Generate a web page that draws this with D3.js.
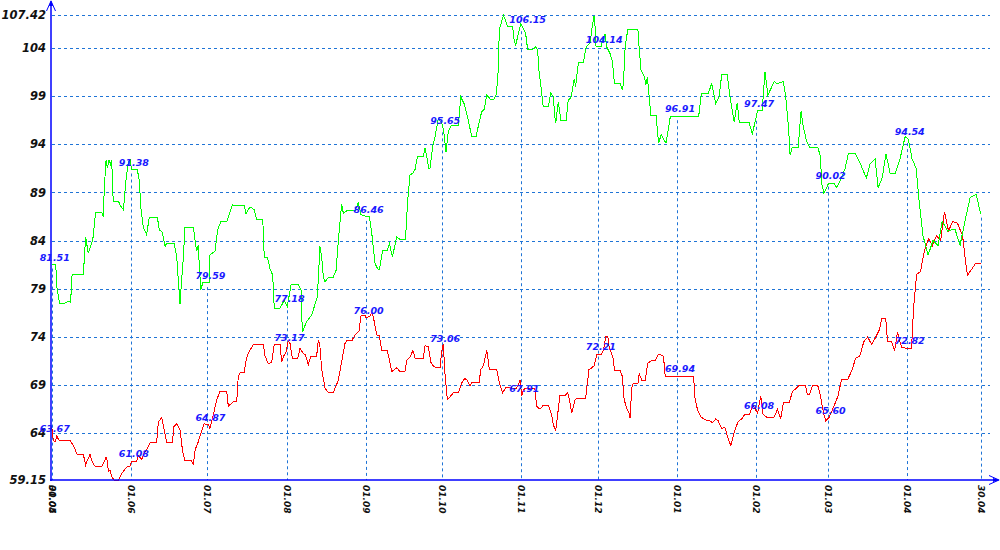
<!DOCTYPE html>
<html><head><meta charset="utf-8">
<script src="https://cdn.jsdelivr.net/npm/d3@7/dist/d3.min.js"></script>
<style>body{margin:0;background:#fff}svg{display:block}</style>
</head><body><svg id="c" width="1000" height="550"></svg>
<script>
// ---- data ----
const yTicks = [59.15, 64, 69, 74, 79, 84, 89, 94, 99, 104, 107.42];
const gridValues = [64, 69, 74, 79, 84, 89, 94, 99, 104, 107.42];
const xTickDays = [0, 0, 31, 61, 92, 123, 153, 184, 214, 245, 276, 304, 335, 364];
const xTickLabels = ["30.04", "01.05", "01.06", "01.07", "01.08", "01.09", "01.10", "01.11", "01.12", "01.01", "01.02", "01.03", "01.04", "30.04"];
const monthDays = [0, 31, 61, 92, 123, 153, 184, 214, 245, 276, 304, 335];
const greenLabels = [81.51, 91.38, 79.59, 77.18, 86.46, 95.65, 106.15, 104.14, 96.91, 97.47, 90.02, 94.54];
const redLabels = [63.67, 61.08, 64.87, 73.17, 76.00, 73.06, 67.91, 72.21, 69.94, 66.08, 65.60, 72.82];

// [day offset from 01.05, value]
const greenSeries = [
[0,81.5],[1.6,81.5],[2,79.2],[3.1,77.5],[5.1,77.5],[6.4,77.7],[7.4,77.6],[8,80.5],[12.4,80.5],[13.3,84.4],[14.3,82.7],[16.1,84.1],[17.2,86.9],[19.6,86.9],[20.2,86.5],[20.6,89.4],[21.3,92.4],[21.8,91.5],[22.5,92.4],[23.2,91.8],[23.5,92.4],[24.1,88.1],[26.1,88.1],[27,87.6],[28.1,87.2],[29.1,90.3],[30,92.2],[30.7,92.4],[31.3,91.4],[33.5,91.4],[34.3,90.3],[34.9,87.5],[35.9,85.4],[37.2,84.6],[38.2,86.4],[41.4,86.4],[42.2,85.1],[43.3,84.9],[44.4,83.4],[45,83.7],[48,83.7],[49,82.3],[49.6,79.9],[50.3,77.4],[50.9,79.9],[51.6,82.3],[52.2,85.4],[55.5,85.4],[56.4,83.5],[56.9,83],[57.4,83.5],[58.4,78.9],[59.2,79.6],[61.8,79.6],[62,82.5],[64,82.9],[65,85.1],[66.3,86],[68.6,86],[70.8,87.7],[75.5,87.6],[76.1,86.8],[77.7,87.5],[79.4,87.2],[80.3,86.2],[82.7,86.2],[83.3,82.2],[84.6,82.2],[85.5,81.1],[86.6,80.4],[87.2,77],[89.5,77],[91.1,77.8],[92.3,77.2],[93.8,79.4],[96.6,79.4],[97.7,78.9],[98.2,74.5],[99.9,75.6],[101.9,76.3],[104.1,78.2],[105.1,83.4],[105.8,82.3],[106.4,80.3],[107.1,79.7],[108.4,80.2],[110.3,80.2],[111.4,80.9],[112.6,84.9],[113.6,87.8],[114.3,86.8],[115.6,87.1],[118.8,87.1],[120.1,87.9],[121.2,86.7],[123.2,86.5],[124.5,86.5],[125.4,84.8],[126.7,81.6],[127.9,81.0],[128.4,81.0],[129.7,83],[131.5,83],[132.3,83.7],[133.5,82.3],[135.2,84.4],[136.5,84.1],[138.6,84.1],[139.5,88.2],[140.4,90.8],[141.5,91.0],[142.4,91.4],[143.3,92.7],[145.6,92.7],[146.3,93.6],[147.8,91.5],[148.2,91.5],[149.3,93.8],[150.2,94.8],[151.5,96.7],[152.8,96.2],[153.4,95.65],[153.7,95.1],[154.5,93.2],[155.4,95.3],[156.7,96],[159.3,96],[160.3,98.9],[161.6,98.2],[163.2,96.5],[164.6,94.8],[166.3,94.8],[167.4,96.2],[168.5,97.4],[169.4,97.6],[170.5,99.1],[171.8,98.7],[173.3,98.7],[174.1,99.1],[174.8,100.8],[175.4,105.9],[177,107.4],[178.7,106.2],[180.6,106.2],[181.1,105],[181.8,104.2],[182.8,105.5],[183.8,106.5],[184.5,106.15],[185.7,105.5],[186.5,103.8],[188.3,103.8],[189.6,104.1],[190.4,103.8],[190.9,101.7],[191.7,100],[192.6,97.9],[194.6,97.9],[195.5,99.3],[196.5,99],[197.2,96.7],[197.5,96.2],[198.3,98.1],[198.5,98.4],[199.5,96.5],[201.6,96.5],[202.4,98.6],[203.4,98.8],[204,99.6],[204.7,100.8],[205.3,100],[205.7,101],[206.4,102.5],[208.3,102.5],[209.4,104.1],[210.9,104.5],[211.8,106.2],[212.5,107.3],[212.9,106.2],[213.3,104.1],[215.3,104.1],[215.8,104.9],[216.8,105.4],[217.5,104.1],[218.8,103.4],[219.7,102.6],[220.5,100.3],[222.7,100.3],[223.6,99.6],[224,100.3],[224.7,104.1],[225.7,105.9],[229.7,105.9],[230.2,103.9],[230.9,101.7],[232.2,101],[232.8,100.2],[233.4,101],[234.1,98.9],[234.8,97],[236.8,97],[237.8,94.1],[238.8,95],[240.7,94.1],[242.4,96.9],[253.5,96.9],[254.6,99.3],[257.3,99.3],[258.6,100.3],[260.2,98.2],[261.5,98.9],[262.5,101.2],[264.7,101.2],[265.8,98.9],[267.4,96.3],[268.6,98.3],[269.4,96.3],[273.2,96.3],[274.5,95.1],[275.6,96.3],[276.6,97.5],[278.4,97.5],[278.8,99.1],[279.5,101.5],[280.6,99.1],[282.2,100],[283.1,100.5],[284.2,100.3],[286.7,100.5],[287.6,98.9],[288.7,95.8],[289.3,92.9],[290.2,93.7],[292.5,93.7],[293.6,97.4],[294.5,95.8],[295.8,94.3],[296.9,93.7],[300.2,93.7],[301.2,92.7],[301.7,89.9],[302.6,88.9],[304.3,89.9],[306.7,89.9],[307.6,89.5],[308.9,90.2],
[310.9,91.5],[312.1,93],[314.9,93],[316.8,92],[319.2,90.5],[320.7,92],[322.6,92.5],[323.8,89.5],[325.4,90.5],[326.9,93],[328.5,91],[330.5,91],[332.4,92.5],[334.4,94.8],[335.6,94.54],[337.1,92.5],[338.7,91.5],[339.9,88],[341.4,84.5],[343.4,82.5],[345.3,84],[347.3,83.5],[348.9,86],[351.1,85],[353.9,85.2],[355.9,83.5],[357.8,86],[359.9,88.5],[362.2,88.8],[364,86.8]
];

const redSeries = [
[0,64.8],[0.6,63.3],[1.3,63.1],[2,63.7],[2.6,63.4],[3.3,63.2],[7.4,63.2],[8.7,62.6],[10,61.8],[12.4,61.8],[13.3,60.7],[14,61.2],[15,61.8],[15.9,61.0],[17.2,60.5],[19.6,60.5],[21.3,61.5],[21.8,61.1],[22.2,60.0],[22.8,60.2],[23.5,59.5],[24.4,59.15],[26.1,59.15],[27.4,59.8],[29.4,60.5],[30.7,60.6],[31.3,61.08],[33.3,61.1],[33.9,61.7],[35.3,61.3],[36.2,62.0],[37.2,62.3],[38.5,63.0],[41.1,63.0],[41.8,65.2],[43.1,65.6],[43.7,64.9],[45.1,63.0],[47.3,63.0],[47.9,64.7],[49,65.0],[50.3,64.3],[51.3,62.1],[52.2,61.2],[54.5,61.2],[55.5,60.8],[56.2,62.3],[57.4,63.1],[58.8,64.3],[59.7,65.0],[61.4,64.87],[62,64.5],[63.3,65.9],[64.7,67.5],[65.9,68.3],[68.6,68.3],[69.2,66.8],[71.2,67.3],[72.5,67.3],[73.1,69.9],[73.8,70.3],[75.5,70.3],[76,71.4],[77,72.3],[79,73.2],[82.9,73.2],[83.6,72.0],[84.9,71.2],[86.2,71.4],[87.2,73.2],[89.5,73.2],[90.1,71.4],[90.8,72.0],[91.7,72.3],[92.7,73.6],[93.4,73.3],[94.3,71.8],[96.4,71.8],[97.3,72.8],[98.6,72.3],[99.5,72.1],[100.5,71.1],[101.6,72.0],[103.8,72.0],[104.5,73.7],[105.1,73.0],[105.8,70.6],[107.1,68.7],[108.4,68.2],[110.3,68.2],[112.3,69.5],[113.6,71.4],[114.9,73.3],[115.6,73.6],[117.6,73.6],[118.8,74.2],[120.4,74.6],[121.2,76.2],[122.8,76.2],[123.2,76.0],[124.5,76.1],[125.4,76.5],[126,76.1],[127.4,74.2],[128.4,74.1],[129.3,72.6],[131.5,72.6],[132.3,71.6],[133.2,70.4],[135.2,70.8],[136.5,70.4],[138.4,70.4],[139.1,71.6],[140.4,71.9],[141.5,72.6],[142.4,71.8],[145.6,71.8],[146.3,73.1],[147.6,73.0],[148.5,71.4],[149.5,71.0],[150.6,70.8],[152.2,70.8],[152.8,72.5],[153.4,73.3],[154.1,70.2],[155,67.5],[155.8,67.7],[157.4,68.2],[159.3,68.2],[160.6,69.2],[161.9,69.7],[162.8,69.5],[163.9,68.9],[164.6,69.3],[167.5,69.3],[168.1,70.6],[169.1,71.0],[170.5,72.6],[171.5,70.6],[174.4,70.6],[175.4,69.2],[176.7,68.2],[178,68.8],[179.6,68.8],[180.6,68.6],[182.2,68.7],[183.5,69.5],[184.2,67.91],[184.8,68.5],[185.7,68.7],[189.3,68.7],[190,66.8],[191.3,66.5],[192.6,66.9],[194.6,66.9],[195.9,65.9],[196.5,64.9],[197.5,64.3],[198.1,65.6],[199.1,67.9],[201.1,67.9],[202.2,68.2],[202.8,67.5],[203.8,66.1],[205.1,67.5],[205.7,67.6],[209.2,67.6],[210.5,70.6],[211.6,70.8],[212.5,71.0],[213.6,72.2],[215.3,72.2],[216.2,72.6],[217.1,74.0],[217.9,74.0],[218.5,72.8],[219.4,72.3],[220.1,71.6],[220.5,70.5],[222.7,70.5],[223.6,69.9],[224.3,67.5],[225.3,66.6],[226.2,66.1],[226.6,65.6],[227.3,68.7],[227.9,69.2],[229.7,69.2],[230.2,70.2],[231.2,69.5],[232.5,69.5],[233.6,71.3],[234.9,71.5],[236.5,71.6],[237.8,72.2],[239.1,72.1],[239.7,72.0],[240.4,69.9],[251.5,69.9],[252.1,67.5],[253.1,66.4],[254.4,65.7],[256,65.4],[257.9,65.3],[258.9,65.1],[260.2,65.5],[261.1,65.3],[262.5,64.5],
[263.8,64.6],[265,63.5],[266.1,62.7],[267.3,64.0],[268.9,65.2],[270.4,65.5],[271.6,66.0],[273.5,66.0],[274.7,67.0],[275.9,66.4],[276.6,66.08],[277.8,67.9],[278.6,66.0],[280.5,65.6],[282.9,65.6],[284.4,66.5],[285.6,65.5],[286.7,67.2],[289,67.2],[290.2,68.3],[293,69.0],[295.3,69.0],[296.1,68.0],[296.9,68.0],[298.1,69.0],[300.1,69.0],[300.9,68.3],[302.5,66.0],[303.3,65.3],[304.5,65.6],[306,66.5],[308,67.8],[309.5,69.6],[311.9,69.6],[313.5,70.5],[315,71.8],[316.6,72.0],[318.2,73.5],[319.7,74.0],[321.3,73.2],[322.9,74.0],[324.4,74.8],[325.2,75.9],[326.8,75.9],[327.5,73.5],[329.1,73.5],[330.3,72.6],[331.4,74.5],[333,72.9],[335.4,72.82],[336.9,72.8],[337.7,77.0],[338.9,80.5],[340.4,80.8],[342,83.0],[343.6,84.2],[345.1,83.5],[346.7,84.5],[348.3,84.0],[349.8,87.0],[351.4,85.0],[353,86.0],[354.9,85.8],[356.9,84.5],[358,82.0],[358.8,80.4],[360.4,81.0],[361.9,81.6],[364,81.6]
];

// ---- chart ----
const svg = d3.select("#c");
const x = d3.scaleLinear().domain([0, 364]).range([51.7, 980.7]);
const y = d3.scaleLinear().domain([59.15, 107.42]).range([480, 15]);
const gridColor = "#1f74d6";
const font = "'DejaVu Sans', Verdana, sans-serif";

// horizontal grid
svg.append("g").selectAll("line").data(gridValues).join("line")
  .attr("x1", 52).attr("x2", 990)
  .attr("y1", d => Math.round(y(d)) + 0.5).attr("y2", d => Math.round(y(d)) + 0.5)
  .attr("stroke", gridColor).attr("stroke-width", 1).attr("stroke-dasharray", "3,3");

// vertical grid (from the upper series point down to the axis)
const vTops = monthDays.map((d, i) => greenLabels[i]).concat([greenSeries[greenSeries.length - 1][1]]);
const vDays = monthDays.concat([364]);
svg.append("g").selectAll("line").data(vDays).join("line")
  .attr("x1", d => Math.round(x(d)) + 0.5).attr("x2", d => Math.round(x(d)) + 0.5)
  .attr("y1", (d, i) => y(vTops[i]) + 4).attr("y2", 480)
  .attr("stroke", gridColor).attr("stroke-width", 1).attr("stroke-dasharray", "3,3");

// series
const line = d3.line().x(d => x(d[0])).y(d => y(d[1]));
svg.append("path").datum(redSeries).attr("d", line)
  .attr("fill", "none").attr("stroke", "#ff0000").attr("stroke-width", 1).attr("shape-rendering", "crispEdges");
svg.append("path").datum(greenSeries).attr("d", line)
  .attr("fill", "none").attr("stroke", "#00ff00").attr("stroke-width", 1).attr("shape-rendering", "crispEdges");

// axes
const axisColor = "#0000ff";
svg.append("line").attr("x1", 51).attr("x2", 51).attr("y1", 2).attr("y2", 481)
  .attr("stroke", axisColor).attr("stroke-width", 1.5);
svg.append("line").attr("x1", 50).attr("x2", 998).attr("y1", 480).attr("y2", 480)
  .attr("stroke", axisColor).attr("stroke-width", 1.5);
svg.append("path").attr("d", "M46.5,11 L51,1 L55.5,11").attr("fill", "none").attr("stroke", axisColor).attr("stroke-width", 1);
svg.append("path").attr("d", "M49,6 L51,0 L53,6 Z").attr("fill", axisColor);
svg.append("path").attr("d", "M989,475.5 L999,480 L989,484.5").attr("fill", "none").attr("stroke", axisColor).attr("stroke-width", 1);
svg.append("path").attr("d", "M993,478 L1000,480 L993,482 Z").attr("fill", axisColor);

// y tick labels
svg.append("g").selectAll("text").data(yTicks).join("text")
  .attr("x", 46).attr("y", d => y(d)).attr("dy", "0.36em")
  .attr("text-anchor", "end")
  .attr("font-family", font).attr("font-size", 11.5).attr("font-weight", "bold").attr("font-style", "italic")
  .attr("fill", "#111")
  .text(d => d === 107.42 || d === 59.15 ? d.toFixed(2) : d);

// x tick labels (rotated)
svg.append("g").selectAll("text").data(xTickDays).join("text")
  .attr("transform", d => `translate(${Math.round(x(d)) + 0.5},485) rotate(90)`)
  .attr("dy", "0.36em")
  .attr("font-family", font).attr("font-size", 9).attr("font-weight", "bold").attr("font-style", "italic")
  .attr("fill", "#111")
  .text((d, i) => xTickLabels[i]);

// value annotations
function annotate(vals) {
  svg.append("g").selectAll("text").data(monthDays).join("text")
    .attr("x", d => x(d) - 12).attr("y", (d, i) => y(vals[i]) - 4)
    .attr("font-family", font).attr("font-size", 9.5).attr("font-weight", "bold").attr("font-style", "italic")
    .attr("fill", "#1a1aff")
    .text((d, i) => vals[i].toFixed(2));
}
annotate(greenLabels);
annotate(redLabels);
</script></body></html>
